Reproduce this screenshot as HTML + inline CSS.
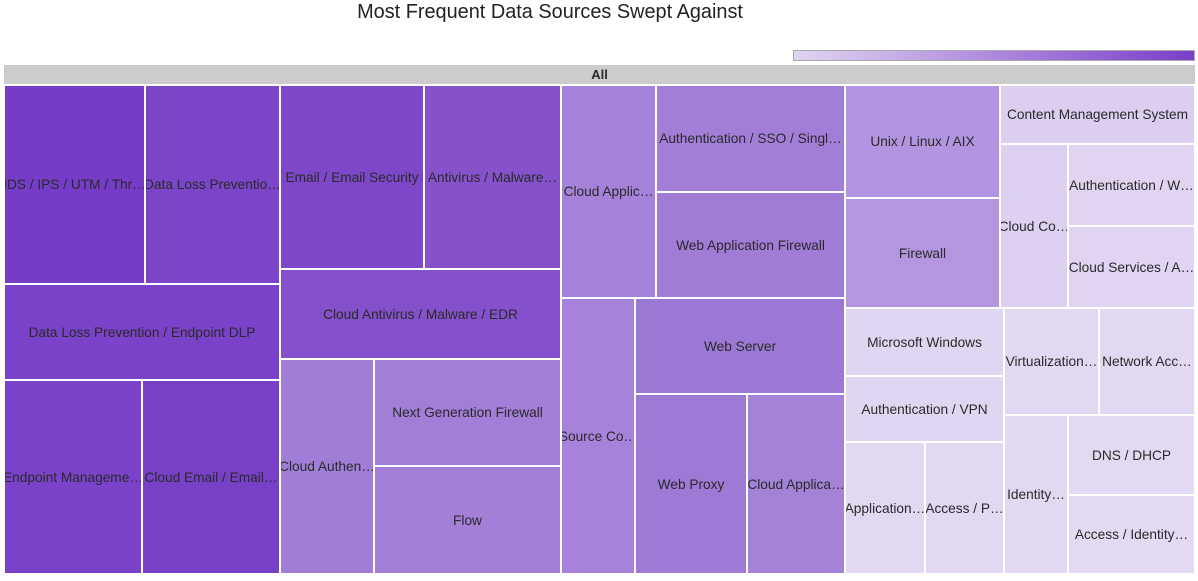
<!DOCTYPE html>
<html><head><meta charset="utf-8"><style>
body{margin:0;width:1198px;height:581px;background:#fff;position:relative;overflow:hidden;font-family:"Liberation Sans",sans-serif}
.t{position:absolute;top:1px;left:0;width:1100px;text-align:center;font-size:19.9px;color:#222;line-height:22px}
.c{position:absolute;box-sizing:border-box;border:1px solid #fff;display:flex;align-items:center;justify-content:center;font-size:13.7px;color:#2a2a2a;white-space:nowrap;overflow:hidden}
</style></head><body>
<div class="t">Most Frequent Data Sources Swept Against</div>
<div style="position:absolute;left:793px;top:50px;width:402px;height:11px;box-sizing:border-box;border:1px solid #aaa;background:linear-gradient(to right,#e0d4f2,#7a3ec8)"></div>
<div class="c" style="left:4px;top:65px;width:1191px;height:20px;background:#ccc;font-weight:bold;font-size:13px;border-width:0 0 1px 0">All</div>
<div id="m"></div>
<script>
var d=[
[4,85,141,199,"#763cc8","IDS / IPS / UTM / Thr…"],
[145,85,135,199,"#7c44c8","Data Loss Preventio…"],
[4,284,276,96,"#7a42c8","Data Loss Prevention / Endpoint DLP"],
[4,380,138,194,"#7a42c8","Endpoint Manageme…"],
[142,380,138,194,"#7840c6","Cloud Email / Email…"],
[280,85,144,184,"#7e46c8","Email / Email Security"],
[424,85,137,184,"#8652cc","Antivirus / Malware…"],
[280,269,281,90,"#8450cc","Cloud Antivirus / Malware / EDR"],
[280,359,94,215,"#a07ed8","Cloud Authen…"],
[374,359,187,107,"#a27ed8","Next Generation Firewall"],
[374,466,187,108,"#a47fd8","Flow"],
[561,85,95,213,"#a582da","Cloud Applic…"],
[656,85,189,107,"#a27ed8","Authentication / SSO / Singl…"],
[656,192,189,106,"#a07cd6","Web Application Firewall"],
[561,298,74,276,"#a682da","Source Co…"],
[635,298,210,96,"#9c78d6","Web Server"],
[635,394,112,180,"#9e79d6","Web Proxy"],
[747,394,98,180,"#a482d8","Cloud Applica…"],
[845,85,155,113,"#b394e0","Unix / Linux / AIX"],
[845,198,155,110,"#b496e0","Firewall"],
[1000,85,195,59,"#dccef0","Content Management System"],
[1000,144,68,164,"#ddd0f0","Cloud Co…"],
[1068,144,127,82,"#e0d4f2","Authentication / W…"],
[1068,226,127,82,"#e0d4f2","Cloud Services / A…"],
[845,308,159,68,"#e1d6f2","Microsoft Windows"],
[845,376,159,66,"#e1d6f2","Authentication / VPN"],
[845,442,80,132,"#e2d8f2","Application…"],
[925,442,79,132,"#e2d8f2","Access / P…"],
[1004,308,95,107,"#e2d8f2","Virtualization…"],
[1099,308,96,107,"#e2d8f2","Network Acc…"],
[1004,415,64,159,"#e2d8f2","Identity…"],
[1068,415,127,80,"#e3d9f3","DNS / DHCP"],
[1068,495,127,79,"#e3d9f3","Access / Identity…"]];
var h="";d.forEach(function(a){h+='<div class="c" style="left:'+a[0]+'px;top:'+a[1]+'px;width:'+a[2]+'px;height:'+a[3]+'px;background:'+a[4]+'">'+a[5]+'</div>'});
document.getElementById("m").innerHTML=h;
</script>
</body></html>
